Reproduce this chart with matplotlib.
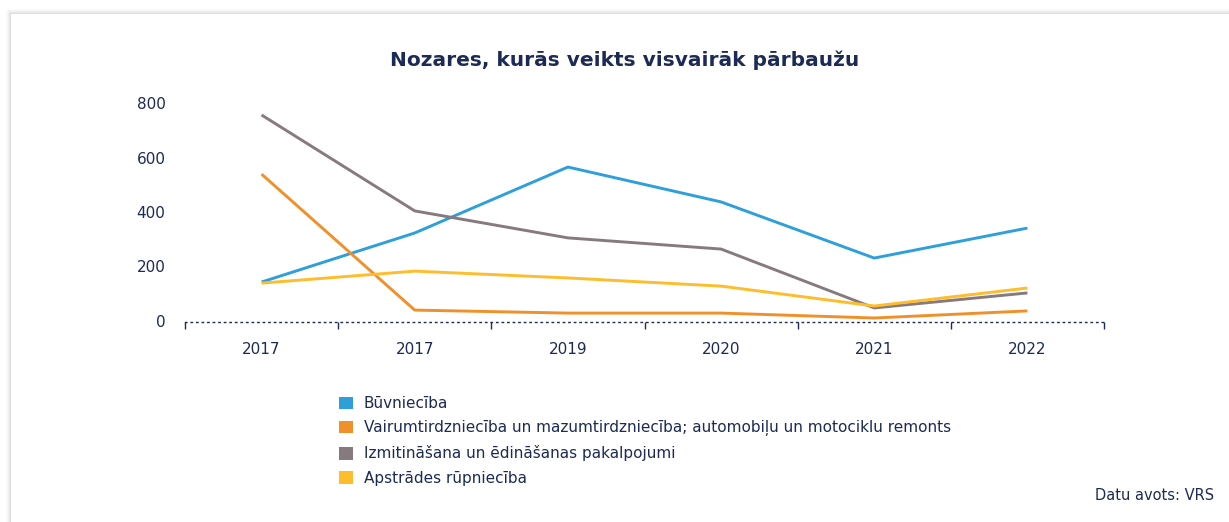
import matplotlib

matplotlib.use("Agg")
import matplotlib.pyplot as plt
from matplotlib.patches import Rectangle, Patch

# data
years = ["2017", "2017", "2019", "2020", "2021", "2022"]
series_names = [
    "Būvniecība",
    "Vairumtirdzniecība un mazumtirdzniecība; automobiļu un motociklu remonts",
    "Izmitināšana un ēdināšanas pakalpojumi",
    "Apstrādes rūpniecība",
]
buvnieciba = [143, 323, 565, 437, 231, 341]
vairumtirdz = [539, 40, 29, 29, 11, 37]
izmitinasana = [756, 404, 305, 264, 48, 103]
apstrades = [139, 183, 158, 128, 55, 121]
colors = ["#2e9fd9", "#f0902a", "#877a7e", "#fdbd2c"]

TXT = "#1c2a55"
W, H = 1229, 522

plt.rcParams["font.family"] = ["DejaVu Sans"]
fig = plt.figure(figsize=(W / 100, H / 100), dpi=100)
fig.patch.set_facecolor("white")

# card with soft shadow
for i, a in enumerate([0.015, 0.02, 0.025, 0.03, 0.035]):
    off = 5 - i
    fig.add_artist(Rectangle(((11 - off) / W, 0), 1.2, (H - 14 + off) / H,
                             transform=fig.transFigure, facecolor="black",
                             alpha=a, edgecolor="none", zorder=0))
fig.add_artist(Rectangle((11 / W, 0), 1.2, (H - 14) / H, transform=fig.transFigure,
                         facecolor="white", edgecolor="none", zorder=0))

ax = fig.add_axes([185 / W, 1 - 321 / H, (1104 - 185) / W, 218 / H])
ax.set_facecolor("none")
x = range(len(years))
for vals, c in zip([buvnieciba, vairumtirdz, izmitinasana, apstrades], colors):
    ax.plot(x, vals, color=c, lw=2.1, solid_capstyle="butt", zorder=3)

ax.set_xlim(-0.5, len(years) - 0.5)
ax.set_ylim(0, 800)
ax.set_yticks([0, 200, 400, 600, 800])
ax.tick_params(axis="y", length=0, pad=14, labelsize=11, labelcolor=TXT)
ax.set_xticks(list(x))
ax.set_xticklabels(years)
ax.set_xticks([i - 0.5 for i in range(len(years) + 1)], minor=True)
ax.tick_params(axis="x", which="major", length=0, pad=14, labelsize=11, labelcolor=TXT)
ax.tick_params(axis="x", which="minor", length=5, width=1, color=TXT)
for t in ax.xaxis.get_minorticklines():
    t.set_linestyle((0, (1, 1.5)))

for s in ["top", "right", "left"]:
    ax.spines[s].set_visible(False)
ax.spines["bottom"].set_color(TXT)
ax.spines["bottom"].set_linestyle((0, (1, 3)))
ax.spines["bottom"].set_linewidth(1)
ax.spines["bottom"].set_position(("data", -4))

fig.text(625 / W, 1 - 60 / H, "Nozares, kurās veikts visvairāk pārbaužu",
         ha="center", va="center", fontsize=14.5, fontweight="bold", color=TXT)

handles = [Patch(facecolor=c, edgecolor="none") for c in colors]
leg = fig.legend(handles, series_names, loc="upper left",
                 bbox_to_anchor=(333 / W, 1 - 390 / H), frameon=False,
                 fontsize=11, handlelength=0.9, handleheight=0.9,
                 handletextpad=0.7, labelspacing=0.6, borderaxespad=0)
for t in leg.get_texts():
    t.set_color(TXT)

fig.text(1214 / W, 1 - 496 / H, "Datu avots: VRS", ha="right", va="center",
         fontsize=10.5, color=TXT)

fig.savefig("out.png", dpi=100)
